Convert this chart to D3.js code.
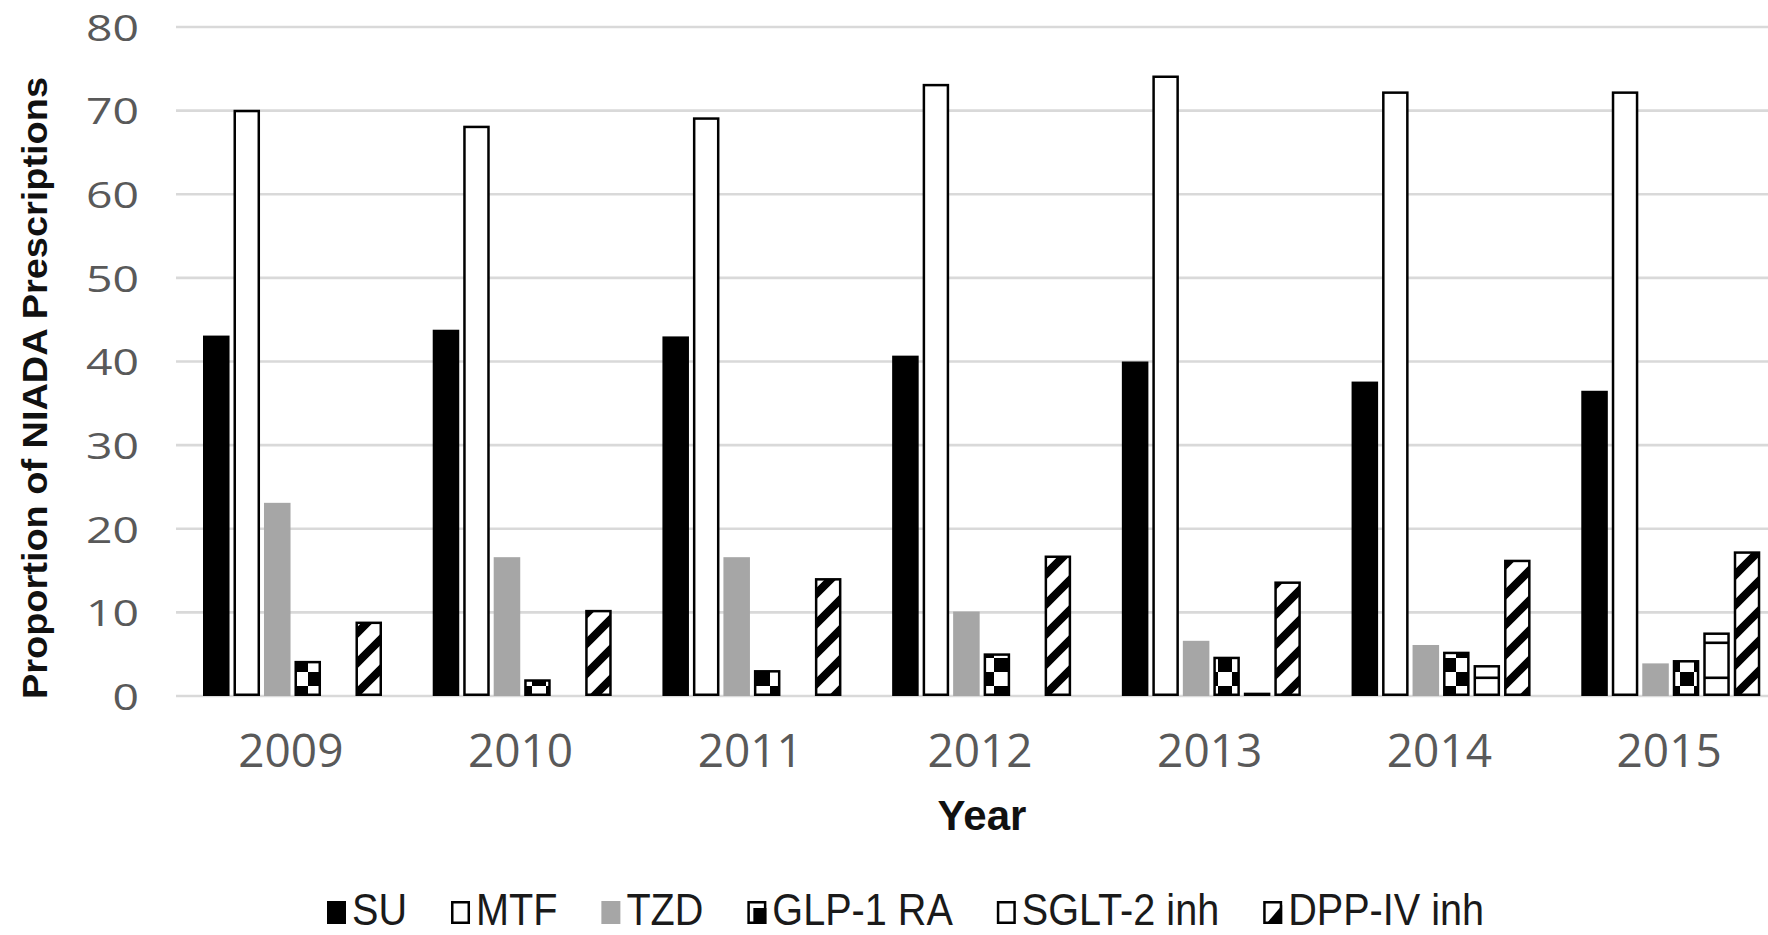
<!DOCTYPE html>
<html>
<head>
<meta charset="utf-8">
<script src="https://cdn.jsdelivr.net/npm/d3@7"></script>
<style>
  html, body { margin: 0; padding: 0; background: #fff; }
  svg { display: block; }
</style>
</head>
<body>
<svg id="chart" width="1768" height="935"></svg>
<script>
// Share of NIADA prescriptions by drug class, 2009–2015 (%)
const years = ["2009", "2010", "2011", "2012", "2013", "2014", "2015"];
const seriesNames = ["SU", "MTF", "TZD", "GLP-1 RA", "SGLT-2 inh", "DPP-IV inh"];
const su    = [43.1, 43.8, 43.0, 40.7, 40.0, 37.6, 36.5];
const mtf   = [70.1, 68.2, 69.2, 73.2, 74.2, 72.3, 72.3];
const tzd   = [23.1, 16.6, 16.6, 10.1, 6.6, 6.1, 3.9];
const glp1  = [4.2, 2.0, 3.1, 5.1, 4.7, 5.3, 4.3];
const sglt2 = [0, 0, 0, 0, 0.4, 3.7, 7.6];
const dpp4  = [8.9, 10.3, 14.1, 16.8, 13.7, 16.3, 17.3];
const yTicks = [0, 10, 20, 30, 40, 50, 60, 70, 80];

const seriesValues = [su, mtf, tzd, glp1, sglt2, dpp4];

const svg = d3.select("#chart");
const plot = { left: 176, right: 1784, top: 27, bottom: 696 };

// ---- fill patterns -------------------------------------------------------
const defs = svg.append("defs");

// large checkerboard
const cell = 14;
const checker = defs.append("pattern").attr("id", "checker")
  .attr("patternUnits", "userSpaceOnUse").attr("width", cell * 2).attr("height", cell * 2);
checker.append("rect").attr("width", cell * 2).attr("height", cell * 2).attr("fill", "#fff");
checker.append("rect").attr("x", 0).attr("y", 0).attr("width", cell).attr("height", cell).attr("fill", "#000");
checker.append("rect").attr("x", cell).attr("y", cell).attr("width", cell).attr("height", cell).attr("fill", "#000");

// wide horizontal lines
const hlines = defs.append("pattern").attr("id", "hlines")
  .attr("patternUnits", "userSpaceOnUse").attr("width", 20).attr("height", 35);
hlines.append("rect").attr("width", 20).attr("height", 35).attr("fill", "#fff");
hlines.append("rect").attr("x", 0).attr("y", 11.5).attr("width", 20).attr("height", 2.6).attr("fill", "#000");

// wide upward diagonal stripes
const diag = defs.append("pattern").attr("id", "diag")
  .attr("patternUnits", "userSpaceOnUse").attr("width", 30).attr("height", 30);
diag.append("rect").attr("width", 30).attr("height", 30).attr("fill", "#fff");
diag.append("path")
  .attr("d", "M-8,8 L8,-8 M0,30 L30,0 M22,38 L38,22")
  .attr("stroke", "#000").attr("stroke-width", 8).attr("stroke-linecap", "square");

const barStyle = {
  "SU":         { fill: "#000000", stroke: "none" },
  "MTF":        { fill: "#ffffff", stroke: "#000" },
  "TZD":        { fill: "#a6a6a6", stroke: "none" },
  "GLP-1 RA":   { fill: "url(#checker)", stroke: "#000" },
  "SGLT-2 inh": { fill: "url(#hlines)", stroke: "#000" },
  "DPP-IV inh": { fill: "url(#diag)", stroke: "#000" }
};

// ---- scales --------------------------------------------------------------
const y = d3.scaleLinear().domain([0, 80]).range([plot.bottom, plot.top]);
const x0 = d3.scaleBand().domain(years).range([plot.left, plot.right]).padding(0);
const x1 = d3.scaleBand().domain(seriesNames).range([27, 206]).paddingInner(0.13).paddingOuter(0);

// ---- gridlines -----------------------------------------------------------
svg.append("g").attr("class", "grid")
  .selectAll("line").data(yTicks).join("line")
  .attr("x1", plot.left).attr("x2", plot.right)
  .attr("y1", d => y(d)).attr("y2", d => y(d))
  .attr("stroke", "#d9d9d9").attr("stroke-width", 2.6);

// ---- y axis labels -------------------------------------------------------
const yAxis = d3.axisLeft(y).tickValues(yTicks).tickSize(0).tickPadding(0);
const yAxisG = svg.append("g").attr("transform", "translate(139,0)").call(yAxis);
yAxisG.select(".domain").remove();
yAxisG.selectAll("text")
  .attr("fill", "#595959")
  .attr("font-family", "'Open Sans', sans-serif")
  .attr("font-size", 37)
  .attr("dy", "0.36em")
  .attr("x", 0)
  .attr("textLength", d => String(d).length * 26.5)
  .attr("lengthAdjust", "spacingAndGlyphs");

// ---- x axis labels -------------------------------------------------------
const xAxis = d3.axisBottom(x0).tickSize(0).tickPadding(0);
const xAxisG = svg.append("g").attr("transform", "translate(0,767)").call(xAxis);
xAxisG.select(".domain").remove();
xAxisG.selectAll("text")
  .attr("fill", "#595959")
  .attr("font-family", "'Open Sans', sans-serif")
  .attr("font-size", 46)
  .attr("y", 0).attr("dy", 0);

// ---- bars ----------------------------------------------------------------
const rows = [];
years.forEach((yr, i) => {
  seriesNames.forEach((name, j) => {
    rows.push({ year: yr, name, value: seriesValues[j][i] });
  });
});

const bw = x1.bandwidth();
const inset = d => (barStyle[d.name].stroke === "none" ? 0 : 1.25);
svg.append("g").attr("class", "bars")
  .selectAll("rect").data(rows.filter(d => d.value > 0)).join("rect")
  .attr("x", d => x0(d.year) + x1(d.name) + inset(d))
  .attr("y", d => y(d.value) + inset(d))
  .attr("width", d => bw - 2 * inset(d))
  .attr("height", d => Math.max(0.5, y(0) - y(d.value) - 2 * inset(d)))
  .attr("fill", d => barStyle[d.name].fill)
  .attr("stroke", d => barStyle[d.name].stroke)
  .attr("stroke-width", 2.5);

// ---- axis titles ---------------------------------------------------------
svg.append("text")
  .attr("transform", "translate(47,388) rotate(-90)")
  .attr("text-anchor", "middle")
  .attr("font-family", "'Liberation Sans', Arial, sans-serif")
  .attr("font-weight", "bold")
  .attr("font-size", 35)
  .attr("fill", "#111")
  .attr("textLength", 622)
  .attr("lengthAdjust", "spacingAndGlyphs")
  .text("Proportion of NIADA Prescriptions");

svg.append("text")
  .attr("x", (plot.left + plot.right) / 2 + 2)
  .attr("y", 830)
  .attr("text-anchor", "middle")
  .attr("font-family", "'Liberation Sans', Arial, sans-serif")
  .attr("font-weight", "bold")
  .attr("font-size", 42)
  .attr("fill", "#111")
  .text("Year");

// ---- legend --------------------------------------------------------------
const legend = svg.append("g").attr("class", "legend");
const squeeze = 0.9;
const baseY = 925;
let lx = 327;
seriesNames.forEach(name => {
  const g = legend.append("g");
  const mx = lx, my = baseY - 24, mw = 19, mh = 23;
  const st = barStyle[name];
  const outline = () => g.append("rect")
    .attr("x", mx + 1.25).attr("y", my + 1.25).attr("width", mw - 2.5).attr("height", mh - 2.5)
    .attr("fill", "none").attr("stroke", "#000").attr("stroke-width", 2.5);
  if (name === "GLP-1 RA") {
    g.append("rect").attr("x", mx).attr("y", my).attr("width", mw).attr("height", mh).attr("fill", "#fff");
    g.append("rect").attr("x", mx + 6).attr("y", my + 7).attr("width", mw - 6).attr("height", mh - 7).attr("fill", "#000");
    outline();
  } else if (name === "DPP-IV inh") {
    g.append("rect").attr("x", mx).attr("y", my).attr("width", mw).attr("height", mh).attr("fill", "#fff");
    g.append("path").attr("d", `M${mx + mw},${my + 4} L${mx + mw},${my + mh} L${mx + 3},${my + mh} Z`).attr("fill", "#000");
    outline();
  } else if (st.stroke === "none") {
    g.append("rect").attr("x", mx).attr("y", my).attr("width", mw).attr("height", mh).attr("fill", st.fill);
  } else {
    g.append("rect").attr("x", mx).attr("y", my).attr("width", mw).attr("height", mh).attr("fill", "#fff");
    outline();
  }
  const t = g.append("text")
    .attr("x", mx + mw + 6)
    .attr("y", baseY)
    .attr("font-family", "'Liberation Sans', Arial, sans-serif")
    .attr("font-size", 44)
    .attr("fill", "#1a1a1a")
    .text(name);
  const len = t.node().getComputedTextLength() * squeeze;
  t.attr("textLength", len).attr("lengthAdjust", "spacingAndGlyphs");
  lx = mx + mw + 6 + len + 44;
});
</script>
</body>
</html>
